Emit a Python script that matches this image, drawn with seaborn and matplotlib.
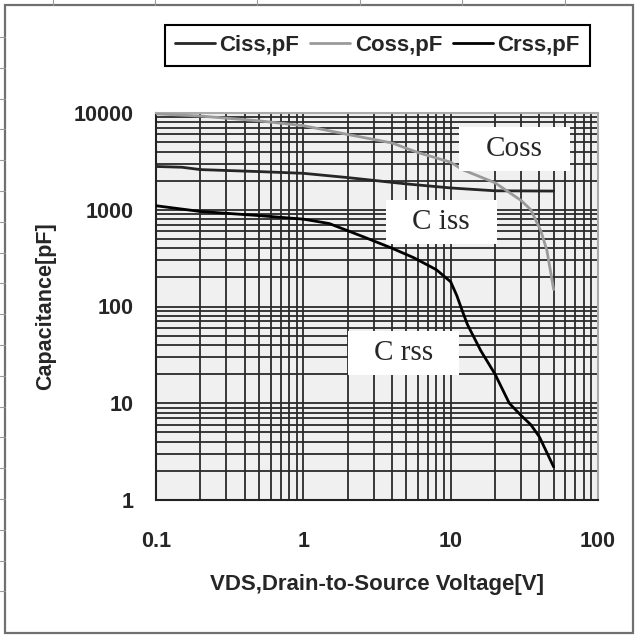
import numpy as np
import pandas as pd
import matplotlib
matplotlib.use("Agg")
import matplotlib.pyplot as plt
import seaborn as sns
from matplotlib.patches import Rectangle
from matplotlib.lines import Line2D

# ---- data ----
ciss_v = [0.1, 0.15, 0.2, 0.5, 1, 2, 5, 10, 20, 50]
ciss_c = [2800, 2750, 2600, 2480, 2380, 2150, 1850, 1680, 1570, 1560]

coss_v = [0.1, 0.2, 0.5, 1, 2, 4, 6, 10, 12, 20, 30, 35, 41, 45, 50]
coss_c = [9800, 9300, 8300, 7400, 6000, 4900, 3900, 3100, 2600, 1900, 1250, 1000, 600, 380, 150]

crss_v = [0.1, 0.2, 0.5, 1, 1.5, 2.6, 4, 5.6, 8, 10, 11, 12, 13, 16, 20, 25, 30, 35, 40, 50]
crss_c = [1100, 960, 870, 800, 720, 520, 400, 320, 240, 180, 130, 90, 65, 35, 20, 10, 7.5, 6, 4.5, 2.2]

series_names = ["Ciss,pF", "Coss,pF", "Crss,pF"]
x_ticks = [0.1, 1, 10, 100]
x_ticklabels = ["0.1", "1", "10", "100"]
y_ticks = [1, 10, 100, 1000, 10000]
y_ticklabels = ["1", "10", "100", "1000", "10000"]
annot_labels = ["Coss", "C iss", "C rss"]

df = pd.concat([
    pd.DataFrame({"V": ciss_v, "C": ciss_c, "series": series_names[0]}),
    pd.DataFrame({"V": coss_v, "C": coss_c, "series": series_names[1]}),
    pd.DataFrame({"V": crss_v, "C": crss_c, "series": series_names[2]}),
], ignore_index=True)

sns.set_theme(style="white")
FONT = ["Liberation Sans", "DejaVu Sans"]
plt.rcParams["font.family"] = FONT
plt.rcParams["font.weight"] = "bold"

W = H = 637
fig = plt.figure(figsize=(6.37, 6.37), dpi=100, facecolor="white")
ax = fig.add_axes([156 / W, 1 - 500 / H, 442 / W, 387 / H])
ax.set_facecolor("#f0f0f0")

palette = {series_names[0]: "#262626", series_names[1]: "#9a9a9a", series_names[2]: "#000000"}
sns.lineplot(data=df, x="V", y="C", hue="series", palette=palette, estimator=None,
             sort=False, ax=ax, linewidth=2.0, zorder=3, legend=True)

ax.set_xscale("log")
ax.set_yscale("log")
ax.set_xlim(0.1, 100)
ax.set_ylim(1, 10000)
ax.set_xticks(x_ticks)
ax.set_xticklabels(x_ticklabels)
ax.set_yticks(y_ticks)
ax.set_yticklabels(y_ticklabels)
ax.set_axisbelow(True)
ax.grid(True, which="both", color="#2a2a2a", linewidth=1.3)
ax.tick_params(axis="x", which="both", length=0, pad=22, labelsize=15.5)
ax.tick_params(axis="y", which="both", length=0, pad=16, labelsize=15.5)
for lab in ax.get_xticklabels() + ax.get_yticklabels():
    lab.set_fontweight("bold")

for side in ["left", "bottom"]:
    ax.spines[side].set_color("#222222")
    ax.spines[side].set_linewidth(1.5)
for side in ["top", "right"]:
    ax.spines[side].set_color("#aaaaaa")
    ax.spines[side].set_linewidth(1.5)

ax.set_xlabel("VDS,Drain-to-Source Voltage[V]", fontsize=16, fontweight="bold", labelpad=16)
ax.set_ylabel("Capacitance[pF]", fontsize=15.5, fontweight="bold", labelpad=13)

# legend
handles, labels = ax.get_legend_handles_labels()
ax.legend(handles, labels, loc="center", ncol=3, mode="expand",
          bbox_to_anchor=(165 / W, 1 - 68 / H, 425 / W, 46 / H),
          bbox_transform=fig.transFigure, frameon=True, fancybox=False,
          edgecolor="black", facecolor="white", framealpha=1,
          prop={"family": FONT, "weight": "bold", "size": 16},
          handlelength=1.8, handletextpad=0.2, borderaxespad=0, borderpad=0.45)
ax.get_legend().get_frame().set_linewidth(1.5)

# white annotation boxes (axes fraction)
boxes = [
    (0.6855, 0.8505, 0.2512, 0.1135),
    (0.5200, 0.6620, 0.2510, 0.1135),
    (0.4340, 0.3220, 0.2515, 0.1135),
]
for (bx, by, bw, bh), txt in zip(boxes, annot_labels):
    ax.add_patch(Rectangle((bx, by), bw, bh, transform=ax.transAxes,
                           facecolor="white", edgecolor="none", zorder=4))
    ax.text(bx + bw / 2, by + bh / 2, txt, transform=ax.transAxes, ha="center",
            va="center", fontsize=21, family=["Liberation Serif", "DejaVu Serif"],
            fontweight="normal", zorder=5)

# outer frame and sheet tick marks
fig.add_artist(Rectangle((5 / W, 4 / H), 628 / W, 628 / H, transform=fig.transFigure,
                         fill=False, edgecolor="#707070", linewidth=1.6))
for yy in np.arange(37, 620, 30.8):
    fig.add_artist(Line2D([0, 5 / W], [1 - yy / H, 1 - yy / H], transform=fig.transFigure,
                          color="#999999", linewidth=0.8))
for xx in [53, 155, 257, 360, 462, 565]:
    fig.add_artist(Line2D([xx / W, xx / W], [1 - 5 / H, 1], transform=fig.transFigure,
                          color="#999999", linewidth=0.8))

fig.savefig("out.png", dpi=100, facecolor="white")
